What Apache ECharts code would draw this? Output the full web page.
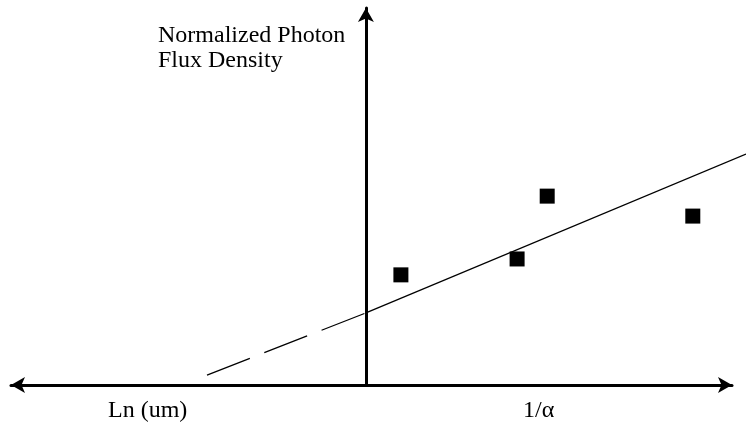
<!DOCTYPE html>
<html>
<head>
<meta charset="utf-8">
<script src="https://cdn.jsdelivr.net/npm/echarts@6/dist/echarts.min.js"></script>
<style>
  html, body { margin: 0; padding: 0; background: #fff; }
  #chart { width: 746px; height: 426px; }
</style>
</head>
<body>
<div id="chart"></div>
<script>
// measured points (x: 1/alpha side, y: normalized flux)
const pointsX = [0.50, 2.16, 2.59, 4.67];
const pointsY = [2.98, 3.41, 5.11, 4.57];

// fitted line: extrapolated part (dashed) and fitted part (solid)
const dashX = [-2.27, 0];
const dashY = [0.27, 1.95];
const solidX = [0, 5.43];
const solidY = [1.95, 6.25];

const X_MIN = -5.07;
const Y_MAX = 10.2;

const zip = (xs, ys) => xs.map((x, i) => [x, ys[i]]);

const chart = echarts.init(document.getElementById('chart'));

const serif = '"Liberation Serif", "DejaVu Serif", serif';
const hidden = {
  axisLine: { show: false },
  axisTick: { show: false },
  axisLabel: { show: false },
  splitLine: { show: false }
};

chart.setOption({
  animation: false,
  grid: [
    // grid 0 carries the drawn axes with arrows
    { left: 11, right: 14, top: 8, bottom: 41 },
    // grid 1 same scale, reaches the right edge so the fit line can run past the arrow
    { left: 11, right: 0, top: 8, bottom: 41 }
  ],
  xAxis: [
    {
      type: 'value',
      gridIndex: 0,
      min: X_MIN,
      max: 5.23,
      axisLine: {
        show: true,
        onZero: true,
        symbol: ['arrow', 'arrow'],
        symbolSize: [12, 14],
        lineStyle: { color: '#000', width: 3 }
      },
      axisTick: { show: false },
      axisLabel: { show: false },
      splitLine: { show: false }
    },
    Object.assign({ type: 'value', gridIndex: 1, min: X_MIN, max: 5.43 }, hidden)
  ],
  yAxis: [
    {
      type: 'value',
      gridIndex: 0,
      min: 0,
      max: Y_MAX,
      axisLine: {
        show: true,
        onZero: true,
        symbol: ['none', 'arrow'],
        symbolSize: [12, 14],
        lineStyle: { color: '#000', width: 3 }
      },
      axisTick: { show: false },
      axisLabel: { show: false },
      splitLine: { show: false }
    },
    Object.assign({ type: 'value', gridIndex: 1, min: 0, max: Y_MAX }, hidden)
  ],
  graphic: [
    {
      type: 'text', left: 158, top: 23,
      style: {
        text: 'Normalized Photon\nFlux Density',
        font: '24px ' + serif, fill: '#000', lineHeight: 25
      }
    },
    {
      type: 'text', left: 108, top: 399,
      style: { text: 'Ln (um)', font: '24px ' + serif, fill: '#000' }
    },
    {
      type: 'text', left: 523, top: 399,
      style: { text: '1/α', font: '24px ' + serif, fill: '#000' }
    }
  ],
  series: [
    {
      type: 'line',
      xAxisIndex: 1,
      yAxisIndex: 1,
      data: zip(dashX, dashY),
      symbol: 'none',
      clip: false,
      lineStyle: { color: '#000', width: 1.3, type: [46, 15.5] },
      z: 1
    },
    {
      type: 'line',
      xAxisIndex: 1,
      yAxisIndex: 1,
      data: zip(solidX, solidY),
      symbol: 'none',
      clip: false,
      lineStyle: { color: '#000', width: 1.3 },
      z: 1
    },
    {
      type: 'scatter',
      data: zip(pointsX, pointsY),
      symbol: 'rect',
      symbolSize: 15,
      itemStyle: { color: '#000', opacity: 1 },
      z: 3
    }
  ]
});
</script>
</body>
</html>
